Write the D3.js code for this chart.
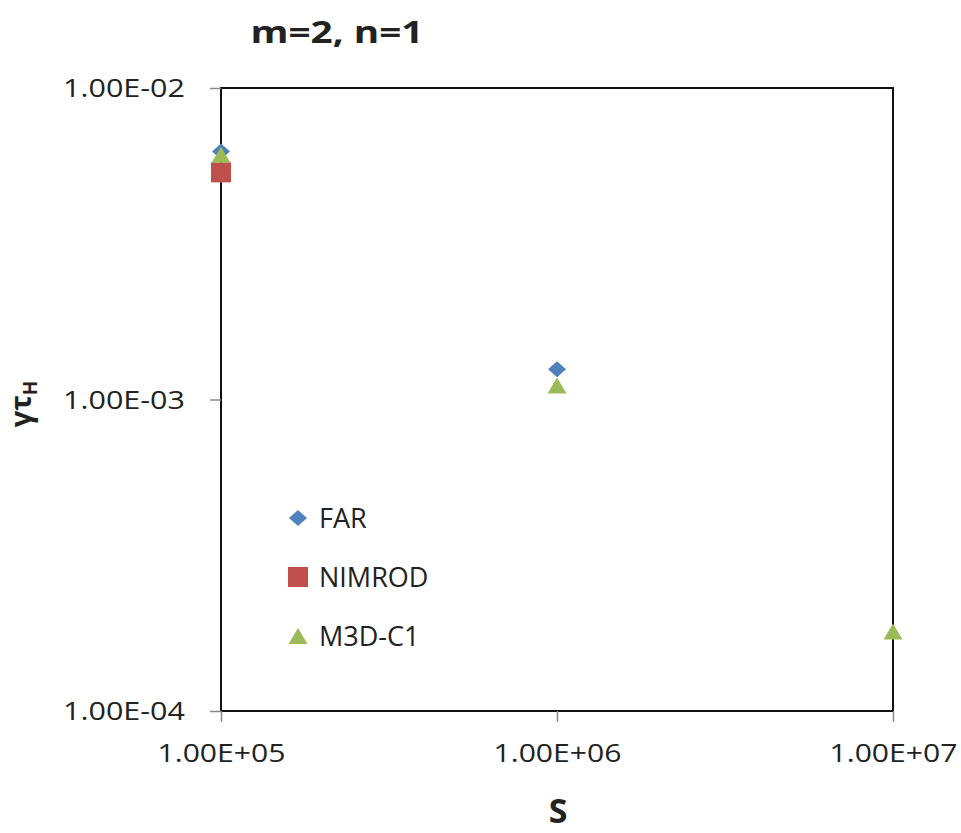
<!DOCTYPE html>
<html>
<head>
<meta charset="utf-8">
<script src="https://cdn.jsdelivr.net/npm/d3@7"></script>
<style>
  html, body { margin: 0; padding: 0; background: #fff; }
  svg { display: block; }
  text { font-family: "Open Sans", "Noto Sans", sans-serif; fill: #222; }
</style>
</head>
<body>
<svg id="chart" width="961" height="833"></svg>
<script>
// Lundquist number S and normalised growth rate gamma*tau_H per code
const farS = [1e5, 1e6];
const farGamma = [6.25e-3, 1.25e-3];
const nimrodS = [1e5];
const nimrodGamma = [5.36e-3];
const m3dS = [1e5, 1e6, 1e7];
const m3dGamma = [6.1e-3, 1.11e-3, 1.8e-4];

const xTicks = [1e5, 1e6, 1e7];
const xTickLabels = ["1.00E+05", "1.00E+06", "1.00E+07"];
const yTicks = [1e-4, 1e-3, 1e-2];
const yTickLabels = ["1.00E-04", "1.00E-03", "1.00E-02"];

const seriesNames = ["FAR", "NIMROD", "M3D-C1"];
const seriesColors = ["#4F81BD", "#C0504D", "#9BBB59"];

// marker shapes drawn in a fixed pixel box
const diamond = { draw(ctx) { ctx.moveTo(0, -8); ctx.lineTo(9, 0); ctx.lineTo(0, 8); ctx.lineTo(-9, 0); ctx.closePath(); } };
const square = { draw(ctx) { ctx.rect(-10, -10, 20, 20); } };
const triangle = { draw(ctx) { ctx.moveTo(0, -8); ctx.lineTo(9.5, 8); ctx.lineTo(-9.5, 8); ctx.closePath(); } };
const seriesSymbols = [diamond, square, triangle];

const series = [
  { name: seriesNames[0], xs: farS, ys: farGamma },
  { name: seriesNames[1], xs: nimrodS, ys: nimrodGamma },
  { name: seriesNames[2], xs: m3dS, ys: m3dGamma }
];

const svg = d3.select("#chart");
const plot = { left: 221, right: 893, top: 88, bottom: 711 };

const x = d3.scaleLog().domain([1e5, 1e7]).range([plot.left, plot.right]);
const y = d3.scaleLog().domain([1e-4, 1e-2]).range([plot.bottom, plot.top]);

// plot frame
svg.append("rect")
  .attr("x", plot.left).attr("y", plot.top)
  .attr("width", plot.right - plot.left).attr("height", plot.bottom - plot.top)
  .attr("fill", "none").attr("stroke", "#111").attr("stroke-width", 2);

// y axis
const yAxis = svg.append("g")
  .attr("transform", `translate(${plot.left},0)`)
  .call(d3.axisLeft(y).tickValues(yTicks).tickSize(11).tickPadding(25)
    .tickFormat((d, i) => yTickLabels[i]));
yAxis.select(".domain").remove();
yAxis.selectAll(".tick line").attr("stroke", "#888").attr("stroke-width", 1.5);
yAxis.selectAll(".tick text")
  .attr("font-size", 25).attr("fill", "#1e1e1e")
  .attr("textLength", 122).attr("lengthAdjust", "spacingAndGlyphs")
  .attr("dy", "0.35em");

// x axis
const xAxis = svg.append("g")
  .attr("transform", `translate(0,${plot.bottom})`)
  .call(d3.axisBottom(x).tickValues(xTicks).tickSize(11).tickPadding(22)
    .tickFormat((d, i) => xTickLabels[i]));
xAxis.select(".domain").remove();
xAxis.selectAll(".tick line").attr("stroke", "#888").attr("stroke-width", 1.5);
xAxis.selectAll(".tick text")
  .attr("font-size", 25).attr("fill", "#1e1e1e")
  .attr("textLength", 128).attr("lengthAdjust", "spacingAndGlyphs");

// data markers
series.forEach((s, i) => {
  svg.append("g").selectAll("path")
    .data(s.xs.map((v, j) => ({ sx: v, g: s.ys[j] })))
    .join("path")
    .attr("transform", d => `translate(${x(d.sx)},${y(d.g)})`)
    .attr("d", d3.symbol().type(seriesSymbols[i]))
    .attr("fill", seriesColors[i]);
});

// legend
const legend = svg.append("g");
const legendY = [518, 577, 636];
series.forEach((s, i) => {
  legend.append("path")
    .attr("transform", `translate(298,${legendY[i]})`)
    .attr("d", d3.symbol().type(seriesSymbols[i]))
    .attr("fill", seriesColors[i]);
  legend.append("text")
    .attr("x", 319).attr("y", legendY[i])
    .attr("dy", "0.36em")
    .attr("font-size", 27)
    .attr("fill", "#1e1e1e")
    .text(s.name);
});

// title
svg.append("text")
  .attr("x", 337).attr("y", 43)
  .attr("text-anchor", "middle")
  .attr("font-size", 30).attr("font-weight", "bold")
  .attr("textLength", 173).attr("lengthAdjust", "spacingAndGlyphs")
  .attr("fill", "#111")
  .text("m=2, n=1");

// x axis title
svg.append("text")
  .attr("x", 558).attr("y", 823)
  .attr("text-anchor", "middle")
  .attr("font-size", 34).attr("font-weight", "bold")
  .attr("fill", "#111")
  .text("S");

// y axis title: gamma tau_H
const yt = svg.append("text")
  .attr("transform", "translate(31,404) rotate(-90)")
  .attr("text-anchor", "middle")
  .attr("font-size", 29).attr("font-weight", "bold")
  .attr("fill", "#111");
yt.append("tspan").text("γτ");
yt.append("tspan").attr("font-size", 19).attr("dy", 6).text("H");
</script>
</body>
</html>
